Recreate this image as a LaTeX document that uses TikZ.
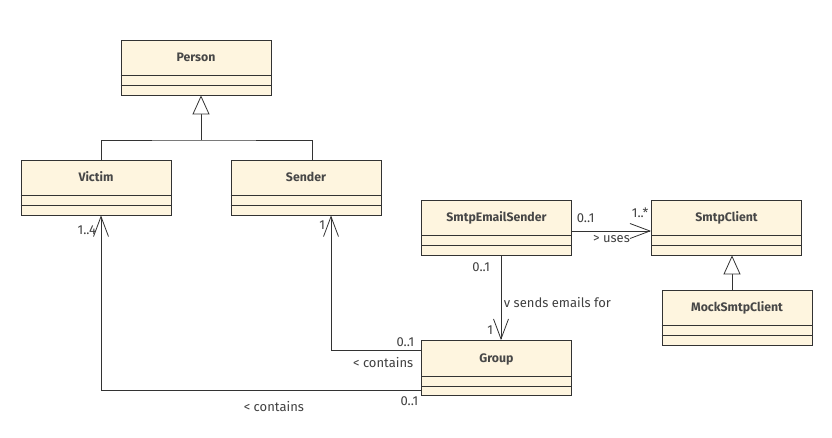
\documentclass[tikz,border=0pt]{standalone}
\usepackage{fontspec}
\setmainfont{Fira Sans}
\usetikzlibrary{arrows.meta,positioning}
\definecolor{classfill}{HTML}{FEF5DF}
\definecolor{umlline}{HTML}{333333}
\tikzset{
  umlclass/.style={rectangle, draw=umlline, fill=classfill, line width=0.8pt, inner sep=0pt,
    minimum width=150pt, minimum height=55pt, text height=8pt, text depth=20pt,
    font=\fontsize{12.3}{14}\selectfont\bfseries, text=black!72},
  assoc/.style={draw=umlline, line width=0.8pt, -{Straight Barb[length=20pt,width=15pt]}},
  inherit/.style={draw=umlline, line width=0.8pt, -{Triangle[open,length=19pt,width=17pt,fill=white]}},
  mult/.style={font=\fontsize{13}{15}\selectfont, text=black!75, inner sep=2.5pt}
}
\begin{document}
\begin{tikzpicture}[x=1pt, y=-1pt]
  \useasboundingbox[fill=white] (0,0) rectangle (832,437);
  \node[umlclass] (person) at (196,67.5) {Person};
  \node[umlclass] (victim) at (96,187.5) {Victim};
  \node[umlclass] (sender) at (306,187.5) {Sender};
  \node[umlclass] (smtpsender) at (496.5,227.5) {SmtpEmailSender};
  \node[umlclass] (smtpclient) at (726.5,227.5) {SmtpClient};
  \node[umlclass] (mock) at (737,317.5) {MockSmtpClient};
  \node[umlclass] (group) at (496.5,368) {Group};
  \foreach \c in {person,victim,sender,smtpsender,smtpclient,mock,group}
    \draw[umlline, line width=0.8pt] ([yshift=20pt]\c.south west) -- ([yshift=20pt]\c.south east)
      ([yshift=10pt]\c.south west) -- ([yshift=10pt]\c.south east);
  \coordinate (gen) at (201,140);
  \draw[umlline, line width=0.8pt] ([xshift=5pt]victim.north) |- (gen) -| ([xshift=6pt]sender.north);
  \draw[inherit] (gen) -- ([xshift=5pt]person.south);
  \draw[inherit] ([xshift=-5pt]mock.north) -- ([xshift=-5pt]mock.north |- smtpclient.south);
  \draw[assoc] ([yshift=-3.5pt]smtpsender.east) -- node[mult, at start, above right=5pt and 2pt] {0..1}
    node[mult, at end, above left=10pt and 0pt] {1..*} node[mult, midway, below=1pt] {> uses}
    ([yshift=-3.5pt]smtpsender.east -| smtpclient.west);
  \draw[assoc] ([xshift=4.5pt]smtpsender.south) -- node[mult, at start, below left=4pt and 8pt] {0..1}
    node[mult, midway, right, yshift=-5pt] {v sends emails for} node[mult, at end, above left=3pt and 5pt] {1}
    ([xshift=4.5pt]smtpsender.south |- group.north);
  \draw[assoc] ([yshift=18pt]group.west) -| node[mult, at start, above left=0pt and 4pt] {0..1}
    node[mult, at start, below left=4pt and 5pt] {< contains} node[mult, at end, below left=2pt and 3pt] {1}
    ([xshift=25pt]sender.south);
  \draw[assoc] ([yshift=-22pt]group.west) -| node[mult, at start, below left=4pt and 0pt] {0..1}
    node[mult, pos=0.23, below=8pt] {< contains} node[mult, at end, below left=7pt and 2pt] {1..4}
    ([xshift=5pt]victim.south);
\end{tikzpicture}
\end{document}
